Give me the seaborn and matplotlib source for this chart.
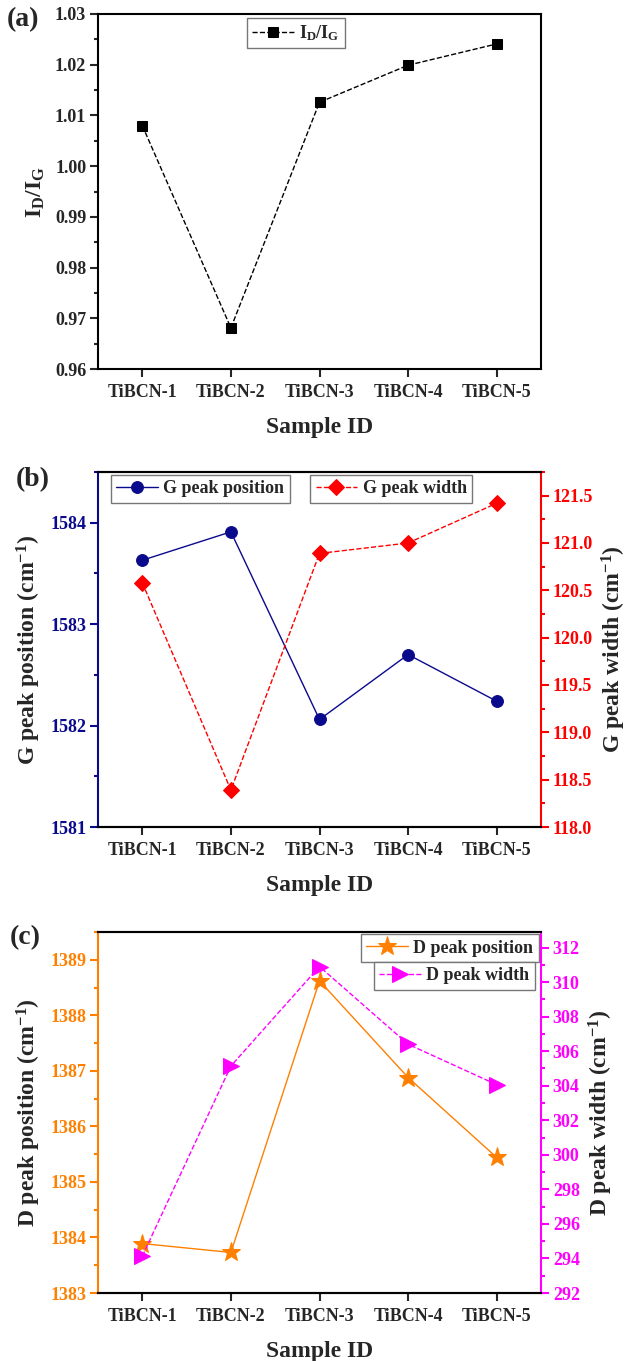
import matplotlib
matplotlib.use('Agg')
import matplotlib.pyplot as plt
import seaborn as sns
from matplotlib.ticker import MultipleLocator, FormatStrFormatter

# ---------------- data ----------------
samples = ['TiBCN-1', 'TiBCN-2', 'TiBCN-3', 'TiBCN-4', 'TiBCN-5']
id_ig = [1.0080, 0.9681, 1.0126, 1.0199, 1.0241]
g_position = [1583.63, 1583.91, 1582.06, 1582.70, 1582.24]
g_width = [120.58, 118.39, 120.89, 121.00, 121.42]
d_position = [1383.89, 1383.73, 1388.62, 1386.88, 1385.44]
d_width = [294.13, 305.14, 310.90, 306.40, 304.06]

# ---------------- style ----------------
sns.set_style('ticks')
plt.rcParams['font.family'] = ['Liberation Serif', 'DejaVu Serif']
plt.rcParams['font.weight'] = 'bold'
plt.rcParams['axes.labelweight'] = 'bold'
plt.rcParams['mathtext.fontset'] = 'custom'
plt.rcParams['mathtext.rm'] = 'Liberation Serif:bold'
plt.rcParams['mathtext.it'] = 'Liberation Serif:bold'
plt.rcParams['mathtext.bf'] = 'Liberation Serif:bold'
plt.rcParams['mathtext.default'] = 'rm'

NAVY = '#0A0A8C'
RED = '#FF0000'
ORANGE = '#FF8000'
MAGENTA = '#FF00FF'

TICK_FS = 13
LABEL_FS = 17
LEG_FS = 13

fig = plt.figure(figsize=(6.27, 13.61), dpi=100)

L = 98 / 627
W = 443 / 627


def frame(ax, left_color='black', right_color='black', right_visible=True):
    for s in ax.spines.values():
        s.set_linewidth(1.5)
        s.set_color('black')
    ax.spines['left'].set_color(left_color)
    ax.spines['right'].set_color(right_color)
    ax.spines['right'].set_visible(right_visible)
    ax.tick_params(axis='both', which='major', direction='out', length=5.5,
                   width=1.5, labelsize=TICK_FS)
    ax.tick_params(axis='x', pad=5)
    ax.tick_params(axis='y', pad=3)
    ax.tick_params(axis='y', which='minor', direction='out', length=3, width=1.5)
    ax.tick_params(top=False)
    for lab in ax.get_xticklabels() + ax.get_yticklabels():
        lab.set_fontweight('bold')


def leg(ax, loc, anchor):
    lg = ax.legend(loc=loc, bbox_to_anchor=anchor, fontsize=LEG_FS, frameon=True,
                   fancybox=False, framealpha=1, edgecolor='#777777',
                   borderpad=0.3, handlelength=2.3, handletextpad=0.3,
                   borderaxespad=0, prop={'weight': 'bold', 'size': LEG_FS})
    lg.get_frame().set_linewidth(1.0)
    return lg


# ---------------- (a) ----------------
axa = fig.add_axes([L, 1 - 369 / 1361, W, 355 / 1361])
sns.lineplot(x=samples, y=id_ig, ax=axa, color='black', marker='s', markersize=7,
             markeredgecolor='black', linestyle='--', linewidth=1,
             label=r'I$_\mathrm{D}$/I$_\mathrm{G}$')
axa.set_xlim(-0.5, 4.5)
axa.set_ylim(0.96, 1.03)
axa.yaxis.set_major_locator(MultipleLocator(0.01))
axa.yaxis.set_minor_locator(MultipleLocator(0.005))
axa.yaxis.set_major_formatter(FormatStrFormatter('%.2f'))
frame(axa)
axa.tick_params(right=False)
axa.set_xlabel('Sample ID', fontsize=LABEL_FS, labelpad=12)
axa.set_ylabel(r'I$_\mathrm{D}$/I$_\mathrm{G}$', fontsize=LABEL_FS, labelpad=6)
leg(axa, 'upper left', (0.336, 0.989))
fig.text(7 / 627, 1 - 20 / 1361, '(a)', fontsize=20, fontweight='bold', va='center', ha='left')

# ---------------- (b) ----------------
axb = fig.add_axes([L, 1 - 827 / 1361, W, 355 / 1361])
sns.lineplot(x=samples, y=g_position, ax=axb, color=NAVY, marker='o', markersize=8.5,
             markeredgecolor=NAVY, linestyle='-', linewidth=1, label='G peak position')
axb2 = axb.twinx()
sns.lineplot(x=samples, y=g_width, ax=axb2, color=RED, marker='D', markersize=8,
             markeredgecolor=RED, linestyle='--', linewidth=1, label='G peak width')
axb.set_xlim(-0.5, 4.5)
axb.set_ylim(1581, 1584.5)
axb.yaxis.set_major_locator(MultipleLocator(1))
axb.yaxis.set_minor_locator(MultipleLocator(0.5))
axb.yaxis.set_major_formatter(FormatStrFormatter('%d'))
axb2.set_ylim(118.0, 121.75)
axb2.yaxis.set_major_locator(MultipleLocator(0.5))
axb2.yaxis.set_minor_locator(MultipleLocator(0.25))
axb2.yaxis.set_major_formatter(FormatStrFormatter('%.1f'))
frame(axb, left_color=NAVY, right_visible=False)
frame(axb2, right_color=RED)
axb2.spines['left'].set_visible(False)
axb.tick_params(axis='y', which='both', colors=NAVY, right=False)
axb2.tick_params(axis='y', which='both', colors=RED)
axb.set_xlabel('Sample ID', fontsize=LABEL_FS, labelpad=12)
axb.set_ylabel('G peak position (cm$^{-1}$)', fontsize=LABEL_FS, labelpad=5)
axb2.set_ylabel('G peak width (cm$^{-1}$)', fontsize=LABEL_FS, labelpad=5)
axb2.set_xlabel('')
leg(axb, 'upper left', (0.029, 0.992))
leg(axb2, 'upper left', (0.479, 0.992))
fig.text(16 / 627, 1 - 480 / 1361, '(b)', fontsize=20, fontweight='bold', va='center', ha='left')

# ---------------- (c) ----------------
axc = fig.add_axes([L, 1 - 1293 / 1361, W, 361 / 1361])
sns.lineplot(x=samples, y=d_position, ax=axc, color=ORANGE, marker='*', markersize=14,
             markeredgecolor=ORANGE, linestyle='-', linewidth=1, label='D peak position')
axc2 = axc.twinx()
sns.lineplot(x=samples, y=d_width, ax=axc2, color=MAGENTA, marker='>', markersize=11,
             markeredgecolor=MAGENTA, linestyle='--', linewidth=1, label='D peak width')
axc.set_xlim(-0.5, 4.5)
axc.set_ylim(1383, 1389.5)
axc.yaxis.set_major_locator(MultipleLocator(1))
axc.yaxis.set_minor_locator(MultipleLocator(0.5))
axc.yaxis.set_major_formatter(FormatStrFormatter('%d'))
axc2.set_ylim(292, 312.9)
axc2.yaxis.set_major_locator(MultipleLocator(2))
axc2.yaxis.set_minor_locator(MultipleLocator(1))
axc2.yaxis.set_major_formatter(FormatStrFormatter('%d'))
frame(axc, left_color=ORANGE, right_visible=False)
frame(axc2, right_color=MAGENTA)
axc2.spines['left'].set_visible(False)
axc.tick_params(axis='y', which='both', colors=ORANGE, right=False)
axc2.tick_params(axis='y', which='both', colors=MAGENTA)
axc.set_xlabel('Sample ID', fontsize=LABEL_FS, labelpad=12)
axc.set_ylabel('D peak position (cm$^{-1}$)', fontsize=LABEL_FS, labelpad=5)
axc2.set_ylabel('D peak width (cm$^{-1}$)', fontsize=LABEL_FS, labelpad=5)
axc2.set_xlabel('')
leg(axc, 'upper right', (0.995, 0.994))
leg(axc2, 'upper right', (0.986, 0.917))
fig.text(10 / 627, 1 - 938 / 1361, '(c)', fontsize=20, fontweight='bold', va='center', ha='left')

for a in (axa, axb, axb2, axc, axc2):
    for lab in a.get_xticklabels() + a.get_yticklabels():
        lab.set_fontweight('bold')

fig.savefig('out.png', dpi=100)
